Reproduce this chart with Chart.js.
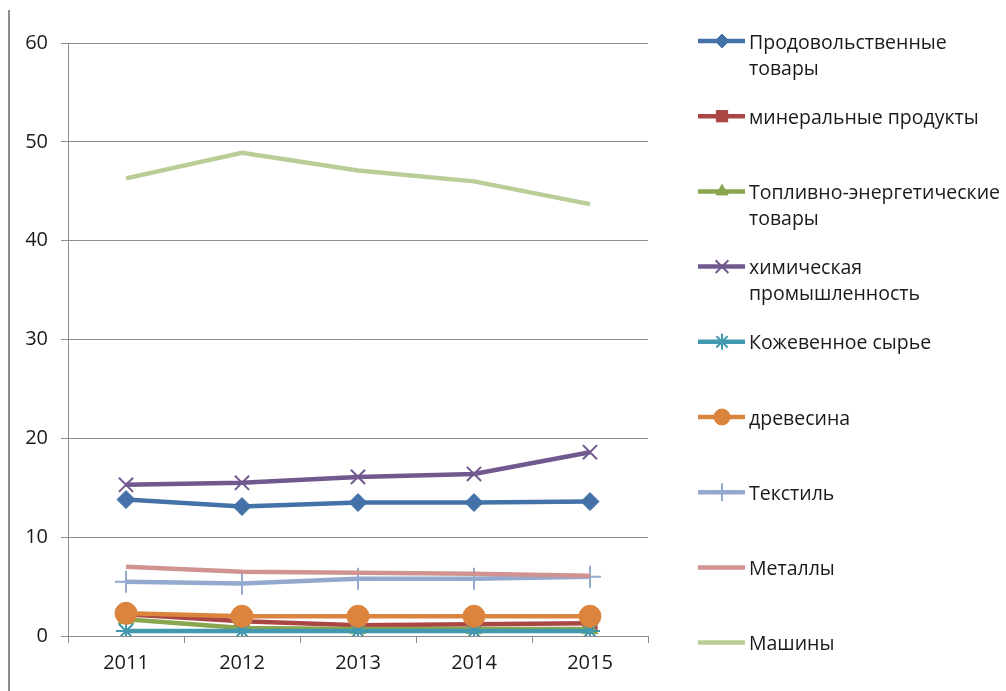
<!DOCTYPE html>
<html>
<head>
<meta charset="utf-8">
<script src="https://cdn.jsdelivr.net/npm/chart.js@4/dist/chart.umd.min.js"></script>
<style>
  html, body { margin: 0; padding: 0; background: #fff; }
  #wrap { position: absolute; left: 0; top: 0; width: 1006px; height: 691px; }
</style>
</head>
<body>
<div id="wrap"><canvas id="c" width="1006" height="691"></canvas></div>
<script>
// ---- data ----
const years = ['2011', '2012', '2013', '2014', '2015'];
const seriesNames = [
  'Продовольственные товары',
  'минеральные продукты',
  'Топливно-энергетические товары',
  'химическая промышленность',
  'Кожевенное сырье',
  'древесина',
  'Текстиль',
  'Металлы',
  'Машины'
];
const food      = [13.8, 13.1, 13.5, 13.5, 13.6];
const minerals  = [2.2, 1.5, 1.1, 1.2, 1.3];
const fuel      = [1.7, 0.8, 0.7, 0.7, 0.7];
const chemicals = [15.3, 15.5, 16.1, 16.4, 18.6];
const leather   = [0.5, 0.5, 0.5, 0.5, 0.5];
const wood      = [2.3, 2.0, 2.0, 2.0, 2.0];
const textile   = [5.5, 5.3, 5.8, 5.8, 6.0];
const metals    = [7.0, 6.5, 6.4, 6.3, 6.1];
const machines  = [46.3, 48.9, 47.1, 46.0, 43.7];
const yMin = 0, yMax = 60, yStep = 10;

// ---- styles ----
const seriesValues = [food, minerals, fuel, chemicals, leather, wood, textile, metals, machines];
const colors = ['#4472A8', '#AA4643', '#89A54E', '#71588F', '#4198AF', '#DB843D', '#93A9CF', '#D19392', '#B9CD96'];
const styles = ['rectRot', 'rect', 'triangle', 'crossRot', 'star', 'circle', 'cross', false, false];
const radii  = [9, 10, 9, 10, 10, 11, 11, 0, 0];
const legendRadii = [7, 8, 7, 9, 8, 8, 9, 0, 0];
const FONT = '"Open Sans", "DejaVu Sans", sans-serif';

const datasets = seriesNames.map((name, i) => {
  const isStroke = styles[i] === 'crossRot' || styles[i] === 'star' || styles[i] === 'cross';
  return {
    label: name,
    data: seriesValues[i],
    borderColor: colors[i],
    backgroundColor: colors[i],
    borderWidth: 4.5,
    pointStyle: styles[i] || 'circle',
    pointRadius: radii[i],
    pointBorderWidth: isStroke ? 2 : 1,
    pointBorderColor: colors[i],
    pointBackgroundColor: colors[i],
    tension: 0,
    order: seriesNames.length - i
  };
});

const legendPlugin = {
  id: 'sideLegend',
  beforeDraw(chart) {
    const ctx = chart.ctx;
    ctx.save();
    ctx.strokeStyle = '#8c8c8c';
    ctx.lineWidth = 2;
    ctx.beginPath();
    ctx.moveTo(9, 10);
    ctx.lineTo(9, 691);
    ctx.stroke();
    ctx.restore();
  },
  afterDraw(chart) {
    const ctx = chart.ctx;
    ctx.save();
    ctx.font = '19.5px ' + FONT;
    ctx.textBaseline = 'middle';
    ctx.textAlign = 'left';
    const x0 = 698, x1 = 745, xm = 722, tx = 749, maxW = 255;
    const y0 = 41, dy = 75.2, lh = 26;
    chart.data.datasets.forEach((ds, i) => {
      const y = y0 + i * dy;
      ctx.strokeStyle = ds.borderColor;
      ctx.lineWidth = 4.5;
      ctx.beginPath();
      ctx.moveTo(x0, y);
      ctx.lineTo(x1, y);
      ctx.stroke();
      if (styles[i]) {
        ctx.fillStyle = ds.backgroundColor;
        ctx.strokeStyle = ds.borderColor;
        ctx.lineWidth = ds.pointBorderWidth;
        Chart.helpers.drawPoint(ctx, { pointStyle: styles[i], radius: legendRadii[i], rotation: 0, borderWidth: ds.pointBorderWidth }, xm, y);
      }
      // wrap
      const words = ds.label.split(' ');
      const lines = [];
      let cur = '';
      words.forEach(w => {
        const t = cur ? cur + ' ' + w : w;
        if (cur && ctx.measureText(t).width > maxW) { lines.push(cur); cur = w; }
        else cur = t;
      });
      if (cur) lines.push(cur);
      ctx.fillStyle = '#1a1a1a';
      lines.forEach((ln, k) => ctx.fillText(ln, tx, y + 2 + k * lh));
    });
    ctx.restore();
  }
};

new Chart(document.getElementById('c'), {
  type: 'line',
  data: { labels: years, datasets },
  options: {
    responsive: false,
    animation: false,
    events: [],
    layout: { padding: { left: 0, top: 43, right: 358, bottom: 0 } },
    plugins: { legend: { display: false }, tooltip: { enabled: false }, title: { display: false } },
    scales: {
      x: {
        offset: true,
        grid: { display: true, drawOnChartArea: false, drawTicks: true, tickLength: 7, color: '#8c8c8c', offset: true },
        border: { display: true, color: '#8c8c8c', width: 1 },
        ticks: { font: { family: FONT, size: 20 }, color: '#1a1a1a', padding: 8, maxRotation: 0 },
        afterFit(scale) { scale.height = 55; }
      },
      y: {
        min: yMin, max: yMax,
        grid: { color: '#8c8c8c', lineWidth: 1, drawTicks: true, tickLength: 7 },
        border: { display: true, color: '#8c8c8c', width: 1 },
        ticks: { stepSize: yStep, font: { family: FONT, size: 20 }, color: '#1a1a1a', padding: 13 },
        afterFit(scale) { scale.width = 68; }
      }
    }
  },
  plugins: [legendPlugin]
});
</script>
</body>
</html>
